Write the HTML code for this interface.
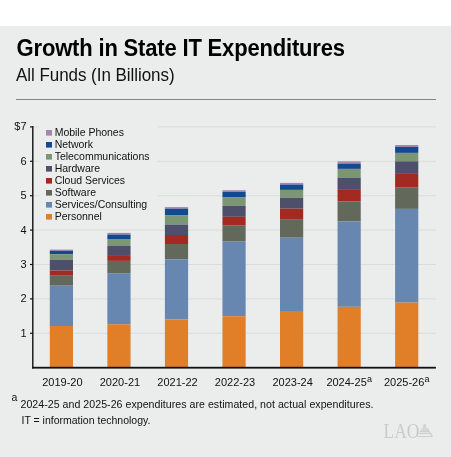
<!DOCTYPE html>
<html><head><meta charset="utf-8"><style>
html,body{margin:0;padding:0;}
body{width:451px;height:457px;overflow:hidden;background:#fff;position:relative;font-family:"Liberation Sans",sans-serif;}
#panel{position:absolute;left:0;top:26px;width:451px;height:431px;background:#EBECEC;}
svg{position:absolute;left:0;top:0;will-change:transform;}
</style></head><body>
<div id="panel"></div>
<svg width="451" height="457" viewBox="0 0 451 457" font-family="Liberation Sans, sans-serif" fill="#111">
<text transform="translate(0 55.5) scale(1 1.06)" x="16.6" y="0" font-size="22" font-weight="700" letter-spacing="-0.17" fill="#000">Growth in State IT Expenditures</text>
<text transform="translate(0 80.8) scale(1 1.06)" x="16.0" y="0" font-size="17" letter-spacing="-0.04" fill="#111">All Funds (In Billions)</text>
<rect x="16" y="99" width="420" height="1" fill="#858585"/>
<rect x="33" y="332.80" width="403" height="1" fill="#DADBDC"/>
<rect x="33" y="298.40" width="403" height="1" fill="#DADBDC"/>
<rect x="33" y="264.00" width="403" height="1" fill="#DADBDC"/>
<rect x="33" y="229.60" width="403" height="1" fill="#DADBDC"/>
<rect x="33" y="195.20" width="403" height="1" fill="#DADBDC"/>
<rect x="33" y="160.80" width="403" height="1" fill="#DADBDC"/>
<rect x="33" y="126.40" width="403" height="1" fill="#DADBDC"/>
<rect x="39" y="118" width="118.4" height="106" fill="#EBECEC"/>
<rect x="49.80" y="249.60" width="23.2" height="1.20" fill="#A684B2"/>
<rect x="49.80" y="250.80" width="23.2" height="3.40" fill="#124A91"/>
<rect x="49.80" y="254.20" width="23.2" height="5.50" fill="#7A9674"/>
<rect x="49.80" y="259.70" width="23.2" height="10.80" fill="#4E4F6A"/>
<rect x="49.80" y="270.50" width="23.2" height="4.60" fill="#A32A21"/>
<rect x="49.80" y="275.10" width="23.2" height="10.60" fill="#63695A"/>
<rect x="49.80" y="285.70" width="23.2" height="40.30" fill="#6787B0"/>
<rect x="49.80" y="326.00" width="23.2" height="41.00" fill="#E17F28"/>
<rect x="107.35" y="232.90" width="23.2" height="1.70" fill="#A684B2"/>
<rect x="107.35" y="234.60" width="23.2" height="4.40" fill="#124A91"/>
<rect x="107.35" y="239.00" width="23.2" height="7.00" fill="#7A9674"/>
<rect x="107.35" y="246.00" width="23.2" height="9.10" fill="#4E4F6A"/>
<rect x="107.35" y="255.10" width="23.2" height="5.80" fill="#A32A21"/>
<rect x="107.35" y="260.90" width="23.2" height="12.30" fill="#63695A"/>
<rect x="107.35" y="273.20" width="23.2" height="51.10" fill="#6787B0"/>
<rect x="107.35" y="324.30" width="23.2" height="42.70" fill="#E17F28"/>
<rect x="164.90" y="207.10" width="23.2" height="1.60" fill="#A684B2"/>
<rect x="164.90" y="208.70" width="23.2" height="6.40" fill="#124A91"/>
<rect x="164.90" y="215.10" width="23.2" height="9.50" fill="#7A9674"/>
<rect x="164.90" y="224.60" width="23.2" height="10.40" fill="#4E4F6A"/>
<rect x="164.90" y="235.00" width="23.2" height="9.00" fill="#A32A21"/>
<rect x="164.90" y="244.00" width="23.2" height="15.40" fill="#63695A"/>
<rect x="164.90" y="259.40" width="23.2" height="60.00" fill="#6787B0"/>
<rect x="164.90" y="319.40" width="23.2" height="47.60" fill="#E17F28"/>
<rect x="222.45" y="190.20" width="23.2" height="1.70" fill="#A684B2"/>
<rect x="222.45" y="191.90" width="23.2" height="5.60" fill="#124A91"/>
<rect x="222.45" y="197.50" width="23.2" height="8.40" fill="#7A9674"/>
<rect x="222.45" y="205.90" width="23.2" height="10.90" fill="#4E4F6A"/>
<rect x="222.45" y="216.80" width="23.2" height="8.40" fill="#A32A21"/>
<rect x="222.45" y="225.20" width="23.2" height="16.40" fill="#63695A"/>
<rect x="222.45" y="241.60" width="23.2" height="74.60" fill="#6787B0"/>
<rect x="222.45" y="316.20" width="23.2" height="50.80" fill="#E17F28"/>
<rect x="280.00" y="182.90" width="23.2" height="1.70" fill="#A684B2"/>
<rect x="280.00" y="184.60" width="23.2" height="5.30" fill="#124A91"/>
<rect x="280.00" y="189.90" width="23.2" height="7.90" fill="#7A9674"/>
<rect x="280.00" y="197.80" width="23.2" height="10.80" fill="#4E4F6A"/>
<rect x="280.00" y="208.60" width="23.2" height="10.50" fill="#A32A21"/>
<rect x="280.00" y="219.10" width="23.2" height="18.60" fill="#63695A"/>
<rect x="280.00" y="237.70" width="23.2" height="73.30" fill="#6787B0"/>
<rect x="280.00" y="311.00" width="23.2" height="56.00" fill="#E17F28"/>
<rect x="337.55" y="161.40" width="23.2" height="2.30" fill="#A684B2"/>
<rect x="337.55" y="163.70" width="23.2" height="5.20" fill="#124A91"/>
<rect x="337.55" y="168.90" width="23.2" height="8.80" fill="#7A9674"/>
<rect x="337.55" y="177.70" width="23.2" height="12.20" fill="#4E4F6A"/>
<rect x="337.55" y="189.90" width="23.2" height="11.40" fill="#A32A21"/>
<rect x="337.55" y="201.30" width="23.2" height="20.10" fill="#63695A"/>
<rect x="337.55" y="221.40" width="23.2" height="85.40" fill="#6787B0"/>
<rect x="337.55" y="306.80" width="23.2" height="60.20" fill="#E17F28"/>
<rect x="395.10" y="145.00" width="23.2" height="1.90" fill="#A684B2"/>
<rect x="395.10" y="146.90" width="23.2" height="6.00" fill="#124A91"/>
<rect x="395.10" y="152.90" width="23.2" height="8.40" fill="#7A9674"/>
<rect x="395.10" y="161.30" width="23.2" height="12.60" fill="#4E4F6A"/>
<rect x="395.10" y="173.90" width="23.2" height="13.30" fill="#A32A21"/>
<rect x="395.10" y="187.20" width="23.2" height="21.70" fill="#63695A"/>
<rect x="395.10" y="208.90" width="23.2" height="93.70" fill="#6787B0"/>
<rect x="395.10" y="302.60" width="23.2" height="64.40" fill="#E17F28"/>
<rect x="32.1" y="126" width="1.4" height="242.5" fill="#111"/>
<rect x="32.1" y="366.8" width="403.8" height="1.8" fill="#111"/>
<rect x="30" y="332.70" width="2.5" height="1.2" fill="#111"/>
<rect x="30" y="298.30" width="2.5" height="1.2" fill="#111"/>
<rect x="30" y="263.90" width="2.5" height="1.2" fill="#111"/>
<rect x="30" y="229.50" width="2.5" height="1.2" fill="#111"/>
<rect x="30" y="195.10" width="2.5" height="1.2" fill="#111"/>
<rect x="30" y="160.70" width="2.5" height="1.2" fill="#111"/>
<rect x="30" y="126.30" width="2.5" height="1.2" fill="#111"/>
<text x="26.6" y="336.80" text-anchor="end" font-size="11">1</text>
<text x="26.6" y="302.40" text-anchor="end" font-size="11">2</text>
<text x="26.6" y="268.00" text-anchor="end" font-size="11">3</text>
<text x="26.6" y="233.60" text-anchor="end" font-size="11">4</text>
<text x="26.6" y="199.20" text-anchor="end" font-size="11">5</text>
<text x="26.6" y="164.80" text-anchor="end" font-size="11">6</text>
<text x="26.6" y="130.40" text-anchor="end" font-size="11">$7</text>
<rect x="46" y="130" width="6" height="5.6" fill="#A684B2"/>
<text x="54.7" y="136.3" font-size="10.5" letter-spacing="-0.02">Mobile Phones</text>
<rect x="46" y="142" width="6" height="5.6" fill="#124A91"/>
<text x="54.7" y="148.3" font-size="10.5" letter-spacing="-0.02">Network</text>
<rect x="46" y="154" width="6" height="5.6" fill="#7A9674"/>
<text x="54.7" y="160.3" font-size="10.5" letter-spacing="-0.02">Telecommunications</text>
<rect x="46" y="166" width="6" height="5.6" fill="#4E4F6A"/>
<text x="54.7" y="172.3" font-size="10.5" letter-spacing="-0.02">Hardware</text>
<rect x="46" y="178" width="6" height="5.6" fill="#A32A21"/>
<text x="54.7" y="184.3" font-size="10.5" letter-spacing="-0.02">Cloud Services</text>
<rect x="46" y="190" width="6" height="5.6" fill="#63695A"/>
<text x="54.7" y="196.3" font-size="10.5" letter-spacing="-0.02">Software</text>
<rect x="46" y="202" width="6" height="5.6" fill="#6787B0"/>
<text x="54.7" y="208.3" font-size="10.5" letter-spacing="-0.02">Services/Consulting</text>
<rect x="46" y="214" width="6" height="5.6" fill="#E17F28"/>
<text x="54.7" y="220.3" font-size="10.5" letter-spacing="-0.02">Personnel</text>
<text x="62.40" y="386" text-anchor="middle" font-size="11">2019-20</text>
<text x="119.95" y="386" text-anchor="middle" font-size="11">2020-21</text>
<text x="177.50" y="386" text-anchor="middle" font-size="11">2021-22</text>
<text x="235.05" y="386" text-anchor="middle" font-size="11">2022-23</text>
<text x="292.60" y="386" text-anchor="middle" font-size="11">2023-24</text>
<text x="366.75" y="386" text-anchor="end" font-size="11">2024-25</text>
<text x="366.95" y="381.9" font-size="9">a</text>
<text x="424.30" y="386" text-anchor="end" font-size="11">2025-26</text>
<text x="424.50" y="381.9" font-size="9">a</text>
<text x="11.6" y="400.6" font-size="10.5">a</text>
<text x="20.5" y="407.7" font-size="10.6" letter-spacing="0.035">2024-25 and 2025-26 expenditures are estimated, not actual expenditures.</text>
<text x="21.5" y="424" font-size="10.5">IT = information technology.</text>
<text transform="translate(0 437.8) scale(1 1.17)" x="383.4" y="0" font-family="Liberation Serif, serif" font-size="17.6" fill="#C9CBCB">LAO</text>
<g>
<ellipse cx="424.6" cy="425.8" rx="1.5" ry="1.7" fill="#CDCFD0"/>
<path d="M420.8 431.4 C421 429 422.6 427.5 424.6 427.4 C426.6 427.5 428.2 429 428.6 431.4 Z" fill="#D6D8D8" stroke="#CDCFD0" stroke-width="0.7"/>
<path d="M419.8 431.8 H429.2 M419 433.6 H430.6 M417.6 436.6 H432.6" stroke="#C9CBCC" stroke-width="0.9" fill="none"/>
<path d="M427.6 429.2 L432.4 436.4" stroke="#C9CBCC" stroke-width="1.1" fill="none"/>
</g>
</svg>
</body></html>
